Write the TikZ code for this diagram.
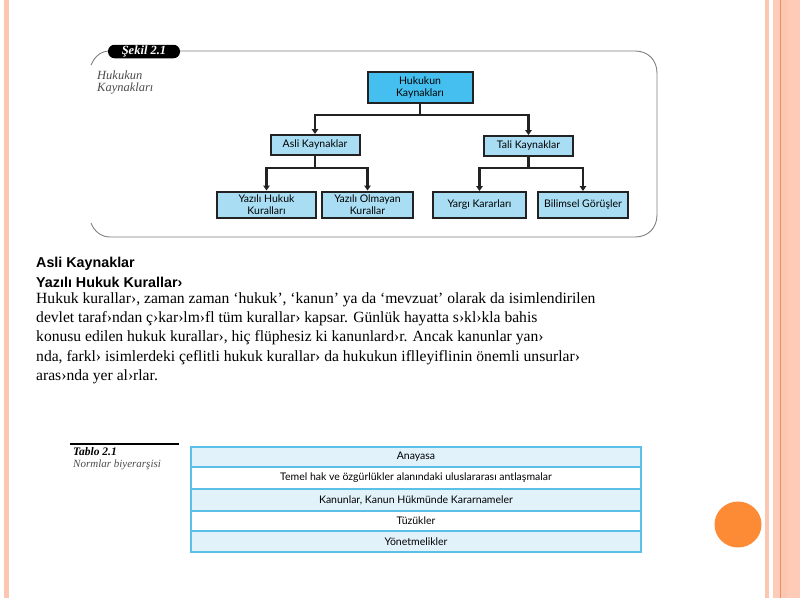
\documentclass[tikz,border=0pt]{standalone}
\usepackage{fontspec}
\setmainfont{Liberation Serif}
\newfontfamily\gill{Lato}
\newfontfamily\arialf{Liberation Sans}
\usetikzlibrary{arrows.meta}
\definecolor{stripe}{HTML}{FCC6B0}
\definecolor{stripeB}{HTML}{FDCBB8}
\definecolor{stripeline}{HTML}{EE9066}
\definecolor{dotc}{HTML}{FD8A35}
\definecolor{topfill}{HTML}{45BFEF}
\definecolor{boxfill}{HTML}{A8DDF3}
\definecolor{frameg}{HTML}{808080}
\definecolor{tabline}{HTML}{5BC0E8}
\definecolor{tabfill}{HTML}{E1F2FB}
\definecolor{dark}{HTML}{222222}
\tikzset{
  kbox/.style={draw=dark, line width=2pt, fill=boxfill, inner sep=0pt, align=center, font=\gill\fontsize{10.5}{11.5}\selectfont},
  conn/.style={draw=dark, line width=2.4pt},
  arr/.style={draw=dark, line width=2.4pt, -{Triangle[length=5pt,width=6.5pt]}},
  body/.style={anchor=west, inner sep=0pt, font=\fontsize{15.6}{17}\selectfont},
  head/.style={anchor=west, inner sep=0pt, font=\arialf\bfseries\fontsize{14.3}{16}\selectfont},
  trow/.style={draw=tabline, line width=1.5pt, inner sep=0pt, font=\gill\fontsize{10.5}{11.5}\selectfont},
  captxt/.style={anchor=west, inner sep=0pt, text=black!70, font=\itshape\fontsize{10.5}{11}\selectfont}
}
\begin{document}
\begin{tikzpicture}[x=1pt,y=-1pt]
\useasboundingbox (0,0) rectangle (800,600);
\fill[white] (0,0) rectangle (800,600);
% slide stripes
\fill[stripe] (4,0) rectangle (9,598);
\fill[stripe] (765,0) rectangle (768.5,598);
\fill[stripeB] (773,0) rectangle (800,598);
\fill[stripe] (781,0) rectangle (787,598);
\draw[stripeline, line width=0.8pt] (780.3,0) -- (780.3,598);
\fill[dotc] (738,524.5) ellipse (23.5 and 23);
% figure frame
\draw[frameg, line width=0.9pt] (91,65) .. controls (95,56) and (101,51) .. (110,51) -- (635,51)
  .. controls (648,51) and (657,60) .. (657,73) -- (657,215)
  .. controls (657,228) and (648,237) .. (635,237) -- (110,237)
  .. controls (101,237) and (94,231) .. (91,223);
\node[fill=black, rounded corners=6.5pt, minimum width=72pt, minimum height=13.5pt, inner sep=0pt,
  text=white, font=\bfseries\itshape\fontsize{12.5}{13}\selectfont] (pill) at (144,51.5) {Şekil 2.1};
\node[captxt, font=\itshape\fontsize{12.5}{13}\selectfont] (c1) at (97,75) {Hukukun};
\node[captxt, font=\itshape\fontsize{12.5}{13}\selectfont] (c2) at (97,89) {Kaynakları};
% tree
\node[kbox, fill=topfill, minimum width=105pt, minimum height=31pt] (top) at (420,87.5) {Hukukun\\Kaynakları};
\node[kbox, minimum width=89pt, minimum height=20pt] (asli) at (315,145) {Asli Kaynaklar};
\node[kbox, minimum width=89pt, minimum height=20pt] (tali) at (528.5,146) {Tali Kaynaklar};
\node[kbox, minimum width=99pt, minimum height=26pt] (yhk) at (266.5,204.5) {Yazılı Hukuk\\Kuralları};
\node[kbox, minimum width=91pt, minimum height=26pt] (yok) at (367.5,204.5) {Yazılı Olmayan\\Kurallar};
\node[kbox, minimum width=93pt, minimum height=26pt] (yargi) at (479.5,205) {Yargı Kararları};
\node[kbox, minimum width=90pt, minimum height=26pt] (bil) at (583,205) {Bilimsel Görüşler};
\coordinate (j1) at (420,115);
\coordinate (j2) at (315,168);
\coordinate (j3) at (528.5,168);
\draw[conn] (top.south) -- (j1);
\draw[arr] (j1) -| (asli.north);
\draw[arr] (j1) -| (tali.north);
\draw[conn] (asli.south) -- (j2);
\draw[arr] (j2) -| (yhk.north);
\draw[arr] (j2) -| (yok.north);
\draw[conn] (tali.south) -- (j3);
\draw[arr] (j3) -| (yargi.north);
\draw[arr] (j3) -| (bil.north);
% text block
\node[head] (h1) at (36,264) {Asli Kaynaklar};
\node[head] (h2) at (36,282) {Yazılı Hukuk Kurallar›};
\node[body] (b1) at (36,300) {Hukuk kurallar›, zaman zaman ‘hukuk’, ‘kanun’ ya da ‘mevzuat’ olarak da isimlendirilen};
\node[body] (b2) at (36,319) {devlet taraf›ndan ç›kar›lm›fl tüm kurallar› kapsar. Günlük hayatta s›kl›kla bahis};
\node[body] (b3) at (36,338) {konusu edilen hukuk kurallar›, hiç flüphesiz ki kanunlard›r. Ancak kanunlar yan›};
\node[body] (b4) at (36,358) {nda, farkl› isimlerdeki çeflitli hukuk kurallar› da hukukun iflleyiflinin önemli unsurlar›};
\node[body] (b5) at (36,377) {aras›nda yer al›rlar.};
% table
\draw[black, line width=1.5pt] (70,444) -- (179,444);
\node[captxt, text=black, font=\bfseries\itshape\fontsize{11.5}{12}\selectfont] (t1) at (73,452) {Tablo 2.1};
\node[captxt, font=\itshape\fontsize{11}{12}\selectfont] (t2) at (73,465) {Normlar biyerarşisi};
\node[trow, fill=tabfill, minimum width=450pt, minimum height=20pt] (r1) at (416,457) {Anayasa};
\node[trow, fill=white, minimum width=450pt, minimum height=22pt] (r2) at (416,478) {Temel hak ve özgürlükler alanındaki uluslararası antlaşmalar};
\node[trow, fill=tabfill, minimum width=450pt, minimum height=22pt] (r3) at (416,500) {Kanunlar, Kanun Hükmünde Kararnameler};
\node[trow, fill=white, minimum width=450pt, minimum height=20pt] (r4) at (416,521) {Tüzükler};
\node[trow, fill=tabfill, minimum width=450pt, minimum height=21pt] (r5) at (416,541.5) {Yönetmelikler};
\end{tikzpicture}
\end{document}
